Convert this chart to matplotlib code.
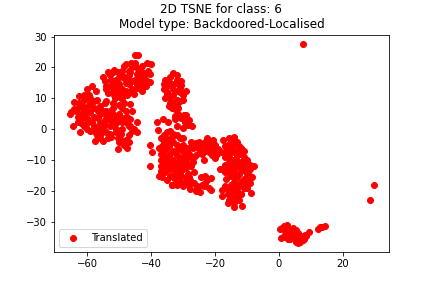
import matplotlib
matplotlib.use('Agg')
import matplotlib.pyplot as plt

# points, one pair of lists per clump
left_x = [-65.4, -64, -64, -63, -63, -62.6, -62, -62, -61.5, -61, -60.2, -60, -60, -60, -59.5, -59, -58.6, -58, -58, -58, -58, -57.1,
          -57.5, -57.6, -56, -56, -56, -56, -55, -55, -54.5, -54.5, -54, -53, -53, -52.5, -52, -51.3, -51, -51, -50.5, -50, -50,
          -49.5, -49.2, -49, -49, -48.5, -50.3, -47.7, -48, -47.5, -47, -47, -46.6, -46.6, -46, -44.3, -44.3, -64.4, -62.3,
          -65, -61, -59, -53, -49, -46, -55.5, -52, -60.5, -57, -54, -50,
          -63, -61.5, -60, -58.5, -57, -55.5, -54, -52.5, -51, -49.5, -48, -46.5, -62.5, -61, -59, -57, -55, -53, -51, -48.5, -45.5,
          -61, -59.5, -56.5, -54, -52, -50, -47.5, -59, -56, -53.5, -51.5, -48.5, -63.5, -61, -56.5, -54.5, -52, -49, -47]
left_y = [5, 6.5, 8.7, 4, 7, 10.8, 2, 5, 8, 9.5, 13, 0, 3.5, 6, 11, 10, 13.9, 1, 4, 7, 9, 12.3,
          -1, -3.9, -2, 2, 5, 7.5, -3.9, 0, 3, 8.6, 6, -1.5, 1, 4.5, 7, 10, 2, -1, -3, 5, 8,
          -3.4, 10, 0, 2.5, -5, -6.4, -6.1, 6, 4, 1, -2, 8.2, 3.3, -0.5, 2.5, -1, 0.9, -1,
          5.5, 1, 5.5, 6, 7, 6, 1, 3, 7, -2, 9, -4,
          2.5, 3.5, 2, 2.5, 0, -1, -1, -2.5, 0, -1.5, -3.5, 1, 8.5, 6.5, 8.5, 9.5, 6, 3, 4, 8.5, 0,
          11, 8, 3.5, 4.5, 5, 3, 2, -0.5, -3, -3, 1, 3.5, 6, 4.5, 6, 1.5, 8.5, -4.5, -4]

top_x = [-45, -44, -46.2, -48.6, -41.3, -40, -51.6, -54.4, -53.4, -50, -40.2, -40.2, -44.4, -43.5, -53, -52, -51, -50, -49, -48,
         -47, -46, -45, -44, -43, -42, -41.5, -53, -52, -51, -50, -49, -48, -47, -46, -45, -44, -43, -42, -54, -52.5, -50.5, -48.5,
         -46.5, -44.5, -42.5, -47.5, -45.5, -51.5, -49.5,
         -55, -53.5, -52, -50.5, -49, -47.5, -46, -44.5, -43, -41.5, -52, -49, -46.5, -43.5, -41, -47, -45, -43, -48, -54]
top_y = [23.9, 24, 21.5, 20.6, 21.5, 21, 19.1, 15.5, 11.8, 11.8, 18, 15.3, 13.2, 14, 17.5, 18.5, 16, 17, 19, 15,
         17.5, 20, 21.5, 19.5, 20.5, 18, 16, 14, 13.5, 13, 14.5, 13, 12.5, 14.5, 13, 16, 17, 15, 14, 14, 16, 15, 16.5,
         18.5, 18, 16.5, 11, 11.5, 11, 10,
         17, 18.5, 15, 18.5, 17.5, 16, 15.5, 14.5, 18.5, 14, 12, 11.5, 12, 16, 19, 19, 20.5, 12.5, 21, 13]

mid_x = [-33, -32, -35.5, -36, -35.5, -33.4, -31.9, -29.8, -29.3, -30.8, -36.2, -32.4, -34, -33, -32, -31, -30, -35, -34, -33,
         -32, -31, -34.5, -33, -31.5, -35, -32.6, -29.1, -38.3, -34.6, -27.3, -37.8, -31.5, -30.5, -29.5, -28.5,
         -34, -32, -30.5, -35, -33, -31, -29, -36, -34, -32.5, -30, -31.5, -28, -32, -30]
mid_y = [18.2, 17.5, 16, 13, 10, 7, 7.9, 4.7, 3.2, 14.4, 3.3, 3.2, 15, 13, 15, 12, 11, 12, 10, 11,
         9.5, 9, 7.5, 8.5, 12.5, 14, 4.4, 4.7, 2.3, 2.3, 0.9, -0.4, 5, 3.5, 2.5, 1.5,
         17, 16, 15.5, 11.5, 14.5, 13.5, 12.5, 14.5, 8.5, 6.5, 9.5, 7, 3, 1, 0.5]

lower_x = [-40.2, -39.6, -40.2, -37.5, -33.4, -27.9, -24.8, -21.3, -21.1, -23.2, -27.9, -22.4, -36, -35, -34, -33, -32, -31, -30,
           -36, -35, -34, -33, -32, -30, -29, -37, -36, -35, -34, -33, -32, -31, -30, -29, -28, -36, -35, -34, -32, -31, -30,
           -29, -28, -33, -32, -31, -30, -29, -34, -32.5, -31, -29.5, -28, -26.5, -25.5, -27, -26, -25, -24, -23, -22, -21,
           -20, -19, -28, -26, -24, -22, -20, -26.5, -25, -23.5, -24, -23, -22, -37, -27.5, -25.5,
           -37, -36.5, -35.5, -34.5, -33.5, -37, -35.5, -34, -32.5, -37.5, -36, -34.5, -33, -31.5, -37, -35.5, -33, -36.5, -35, -33.5,
           -32, -30.5, -28.5, -35, -33, -31, -29, -33.5, -32, -30, -28, -33, -31, -29, -27, -30, -27.5, -25, -23, -21, -19.5, -24.5,
           -22.5, -20.5, -22.5, -23.5, -24.5, -26, -28.5, -30, -26.5]
lower_y = [-5, -7.4, -11.8, -15, -18, -19.3, -20.2, -19.6, -15.8, -15.3, -16.6, -2.9, -2, -1, -0.5, -1.5, -2, -3, -3,
           -4, -4, -3.5, -4, -5, -5, -6, -8, -7, -6, -8, -7, -8.5, -9.5, -9, -8, -6, -10, -9.5, -11, -11, -12, -11,
           -10, -9, -13, -14, -14, -13, -12.5, -15, -16, -17, -17, -15.5, -17.5, -18.5, -6, -4.5, -6.5, -5, -7, -4.5, -6,
           -5, -6.5, -8, -8.5, -8, -7.5, -7.5, -9, -6, -10, -18, -17.5, -19, -12, -12, -19,
           -3, -5.5, -2.5, -5.5, -2.5, -10, -12, -13, -12, -6, -8.5, -9.5, -10, -6.5, -13.5, -14, -15, -15.5, -16.5, -10.5,
           -12.5, -15, -14.5, -13, -15.5, -15.5, -15.5, -18, -18, -18.5, -18, -12, -11, -11, -10.5, -7, -4, -4, -4, -8.5, -8, -7.5,
           -6, -3.5, -16.5, -18.5, -15.5, -20, -17.5, -7, -14]

right_x = [-14, -17.4, -7.8, -8.7, -11.5, -14.1, -16, -17.8, -17.8, -18.4, -20.1, -11.5, -16, -15, -14, -13, -12, -16.5, -15, -14,
           -13, -12, -11, -10, -17, -15.5, -14.5, -13.5, -12, -10.5, -9, -14, -13, -11, -10, -9, -16, -15, -14, -12.5, -11, -10, -9,
           -15, -14, -13, -12, -11, -10, -14.5, -13.5, -12, -16, -15, -13.5, -12.5, -15.5, -14, -13, -18, -17, -9.5,
           -15.5, -14, -12.5, -17, -15, -13, -11, -18, -16, -14.5, -13, -11.5, -9, -17, -15.5, -12, -10.5, -8.5, -16.5, -13, -11.5, -10,
           -12, -14, -16, -11, -9.5, -13, -12, -17, -15, -16]
right_y = [-2.5, -3.6, -11.8, -20.5, -24.7, -25.3, -24, -21.6, -19.6, -12.9, -9.4, -7.7, -5, -4, -5, -4, -6, -7, -6.5, -7.5,
           -7, -8, -9, -10, -9, -9, -10, -9.5, -10.5, -11, -13, -13, -12, -13, -14, -15, -14, -15, -15.5, -14.5, -16, -17, -17.5,
           -18, -17, -18, -17, -19, -19, -20, -20, -21, -21, -22, -22, -23, -23, -24, -20, -13, -14, -13,
           -3, -3, -5.5, -5.5, -7.5, -8.5, -7, -7.5, -8, -11.5, -11, -12, -11.5, -11.5, -10.5, -12.5, -13.5, -15.5, -16, -15.5, -18, -15,
           -13, -14, -12.5, -18, -16, -19, -21, -18.5, -19, -19.5]

bottom_x = [1.6, 0.3, 0.5, 6, 9.5, 8.1, 14.4, 12.8, 12.3, 2.5, 3.5, 4.5, 5, 6, 7, 2, 3, 4, 5, 6, 7, 8, 2, 3, 4.5, 5.5, 6.5, 7.5, 1.5, 5, 7, 13.5,
            1, 2.5, 4, 5.5, 8.5, 3.5, 6.5]
bottom_y = [-31.2, -32.4, -35.3, -36.7, -33.4, -34.3, -31.3, -31.5, -32.3, -32, -32.5, -32, -33, -33.5, -34.5, -33, -34, -33.5, -35, -35, -36, -35.5,
            -35, -35.5, -35, -36.5, -36.5, -36, -34.5, -34, -35, -31.8,
            -32, -31, -33, -32.5, -34.5, -35.5, -35]

far_x = [29.8, 28.6, 7.5]
far_y = [-18, -23, 27.5]

x_values = left_x + top_x + mid_x + lower_x + right_x + bottom_x + far_x
y_values = left_y + top_y + mid_y + lower_y + right_y + bottom_y + far_y

plt.figure(figsize=(6, 4), dpi=72)
plt.scatter(x_values, y_values, color='r', label='Translated')
plt.xlim(-70.4, 34.4)
plt.ylim(-39.75, 30.65)
plt.title('2D TSNE for class: 6\nModel type: Backdoored-Localised', pad=7)
plt.legend(loc='lower left')
plt.subplots_adjust(left=0.125, right=0.9, bottom=0.125, top=0.88)
plt.savefig('out.png')
